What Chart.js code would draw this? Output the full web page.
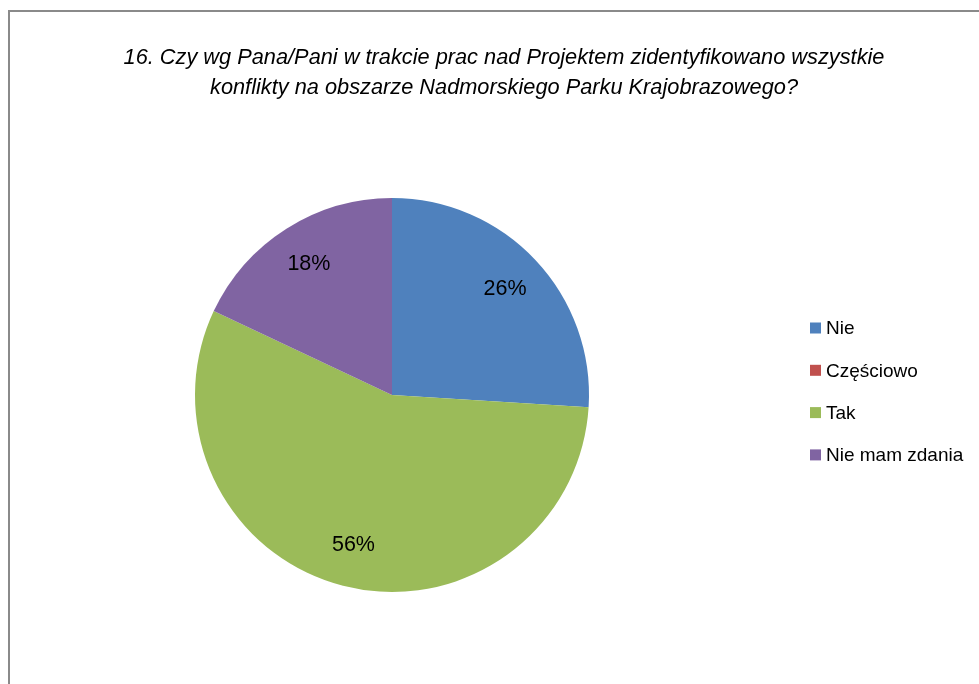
<!DOCTYPE html>
<html>
<head>
<meta charset="utf-8">
<script src="https://cdn.jsdelivr.net/npm/chart.js@4/dist/chart.umd.min.js"></script>
<style>
  html, body { margin: 0; padding: 0; background: #ffffff; overflow: hidden; }
  #wrap { position: relative; width: 979px; height: 684px; }
</style>
</head>
<body>
<div id="wrap"><canvas id="c" width="979" height="684"></canvas></div>
<script>
const titleLines = [
  "16. Czy wg Pana/Pani w trakcie prac nad Projektem zidentyfikowano wszystkie",
  "konflikty na obszarze Nadmorskiego Parku Krajobrazowego?"
];
const categories = ["Nie", "Częściowo", "Tak", "Nie mam zdania"];
const values = [26, 0, 56, 18];
const colors = ["#4F81BD", "#C0504D", "#9BBB59", "#8064A2"];

const FONT = '"Liberation Sans", Arial, sans-serif';

const decorPlugin = {
  id: 'decor',
  beforeDraw(chart) {
    const ctx = chart.ctx;
    ctx.save();
    ctx.fillStyle = '#ffffff';
    ctx.fillRect(0, 0, chart.width, chart.height);
    ctx.strokeStyle = '#8a8a8a';
    ctx.lineWidth = 2;
    ctx.strokeRect(9, 11, chart.width + 20, chart.height + 20);
    ctx.restore();
  },
  afterDraw(chart) {
    const ctx = chart.ctx;
    ctx.save();
    // title
    ctx.fillStyle = '#000000';
    ctx.textAlign = 'center';
    ctx.textBaseline = 'middle';
    let size = 20;
    ctx.font = 'italic ' + size + 'px ' + FONT;
    const w = ctx.measureText(titleLines[0]).width;
    size = size * 761 / w;
    ctx.font = 'italic ' + size.toFixed(2) + 'px ' + FONT;
    ctx.fillText(titleLines[0], 504, 58);
    ctx.fillText(titleLines[1], 504, 88);

    // value labels
    const meta = chart.getDatasetMeta(0);
    ctx.font = '21.5px ' + FONT;
    meta.data.forEach((arc, i) => {
      if (!values[i]) return;
      const p = arc.getProps(['x', 'y', 'startAngle', 'endAngle', 'outerRadius'], true);
      const mid = (p.startAngle + p.endAngle) / 2;
      const r = p.outerRadius * 0.787;
      ctx.fillText(values[i] + '%', p.x + Math.cos(mid) * r, p.y + Math.sin(mid) * r);
    });

    // legend
    ctx.textAlign = 'left';
    ctx.font = '19px ' + FONT;
    categories.forEach((name, i) => {
      const cy = 328 + i * 42.3;
      ctx.fillStyle = colors[i];
      ctx.fillRect(810, cy - 5.5, 11, 11);
      ctx.fillStyle = '#000000';
      ctx.fillText(name, 826, cy + 1);
    });
    ctx.restore();
  }
};

new Chart(document.getElementById('c'), {
  type: 'pie',
  data: {
    labels: categories,
    datasets: [{
      data: values,
      backgroundColor: colors,
      borderWidth: 0
    }]
  },
  options: {
    responsive: false,
    animation: false,
    layout: { padding: { left: 195, right: 390, top: 198, bottom: 92 } },
    plugins: {
      legend: { display: false },
      title: { display: false },
      tooltip: { enabled: false }
    }
  },
  plugins: [decorPlugin]
});
</script>
</body>
</html>
